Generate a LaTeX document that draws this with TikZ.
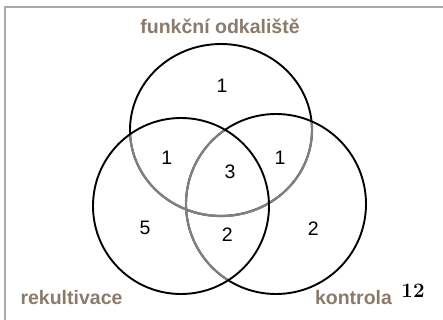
\documentclass[tikz,border=0pt]{standalone}
\usepackage{fontspec}
\newfontfamily\labsans{Liberation Sans}
\definecolor{labcol}{RGB}{140,122,106}
\definecolor{framecol}{RGB}{170,170,170}
\tikzset{
  ring/.style={line width=1.9pt, draw=black},
  ringin/.style={line width=2.2pt, draw=black!50},
  lbl/.style={font=\labsans\fontsize{19.5}{21}\selectfont\bfseries, text=labcol, inner sep=0pt, anchor=base},
  num/.style={font=\labsans\fontsize{19.5}{21}\selectfont, inner sep=0pt},
  pagenum/.style={font=\fontsize{20.5}{22}\selectfont\bfseries, inner sep=0pt, anchor=base}
}
\begin{document}
\begin{tikzpicture}[x=1pt,y=-1pt]
\useasboundingbox (0,0) rectangle (443,320);
% frame
\draw[framecol, line width=1.3pt] (5,320) -- (5,7) -- (443,7);
% top circle
\draw[ring] (221,130) ellipse [x radius=91pt, y radius=86pt];
\begin{scope}
  \clip (181,206) circle [radius=88pt];
  \draw[ringin] (221,130) ellipse [x radius=91pt, y radius=86pt];
\end{scope}
\begin{scope}
  \clip (276,204) circle [radius=90pt];
  \draw[ringin] (221,130) ellipse [x radius=91pt, y radius=86pt];
\end{scope}
% right circle
\draw[ring] (276,204) circle [radius=90pt];
\begin{scope}
  \clip (181,206) circle [radius=88pt];
  \draw[ringin] (276,204) circle [radius=90pt];
\end{scope}
% left circle
\draw[ring] (181,206) circle [radius=88pt];
% labels
\node[lbl] (ltop) at (220,34) {funkční odkaliště};
\node[lbl] (lleft) at (71.5,304) {rekultivace};
\node[lbl] (lright) at (353.5,304) {kontrola};
\node[pagenum] (pg) at (413,297) {12};
% numbers
\node[num] (n1) at (222,86) {1};
\node[num] (n2) at (166.7,157.3) {1};
\node[num] (n3) at (230,171.7) {3};
\node[num] (n4) at (280,157.3) {1};
\node[num] (n5) at (145,228) {5};
\node[num] (n6) at (227.3,235) {2};
\node[num] (n7) at (313.3,228.3) {2};
\end{tikzpicture}
\end{document}
